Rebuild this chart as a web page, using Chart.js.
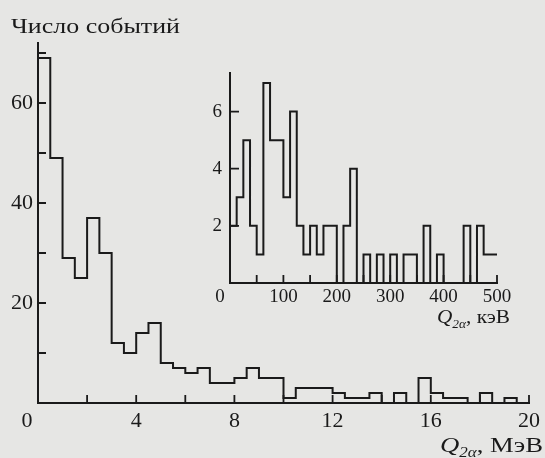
<!DOCTYPE html>
<html>
<head>
<meta charset="utf-8">
<script src="https://cdn.jsdelivr.net/npm/chart.js@4.4.1/dist/chart.umd.min.js"></script>
<style>
  html, body { margin: 0; padding: 0; background: #e6e6e4; }
  #wrap { position: relative; width: 545px; height: 458px; overflow: hidden; }
  #mainChart { position: absolute; left: 0; top: 0; }
  #insetChart { position: absolute; left: 180px; top: 50px; }
</style>
</head>
<body>
<div id="wrap">
  <canvas id="mainChart" width="545" height="458"></canvas>
  <canvas id="insetChart" width="365" height="290"></canvas>
</div>
<script>
// main histogram: 0.5 MeV bins, 0..20 MeV
const mainBinWidth = 0.5;
const mainCounts = [69, 49, 29, 25, 37, 30, 12, 10, 14, 16,
                    8, 7, 6, 7, 4, 4, 5, 7, 5, 5,
                    1, 3, 3, 3, 2, 1, 1, 2, 0, 2,
                    0, 5, 2, 1, 1, 0, 2, 0, 1, 0];
const mainXLabels = [4, 8, 12, 16, 20];
const mainYLabels = [20, 40, 60];
const mainXMarks = [2, 4, 6, 8, 10, 12, 14, 16, 18, 20];
const mainYMarks = [10, 20, 30, 40, 50, 60, 70];

// inset: 12.5 keV bins, 0..500 keV
const insetBinWidth = 12.5;
const insetCounts = [2, 3, 5, 2, 1, 7, 5, 5, 3, 6,
                     2, 1, 2, 1, 2, 2, 0, 2, 4, 0,
                     1, 0, 1, 0, 1, 0, 1, 1, 0, 2,
                     0, 1, 0, 0, 0, 2, 0, 2, 1, 1];
const insetXLabels = [100, 200, 300, 400, 500];
const insetYLabels = [2, 4, 6];
const insetXMarks = [50, 100, 150, 200, 250, 300, 350, 400, 450, 500];
const insetYMarks = [2, 4, 6];

const ink = '#1a1a1a';
const serif = "'Liberation Serif', 'Times New Roman', serif";

function stepPoints(counts, width) {
    const pts = counts.map((c, i) => ({ x: i * width, y: c }));
    pts.push({ x: counts.length * width, y: counts[counts.length - 1] });
    return pts;
}

// small ticks pointing into the plot
function drawMarks(chart, xMarks, yMarks, xLen, yLen) {
    const { ctx, scales: { x, y } } = chart;
    ctx.save();
    ctx.strokeStyle = ink;
    ctx.lineWidth = 1.8;
    ctx.beginPath();
    xMarks.forEach(v => {
        const px = x.getPixelForValue(v);
        ctx.moveTo(px, y.bottom);
        ctx.lineTo(px, y.bottom - xLen);
    });
    yMarks.forEach(v => {
        const py = y.getPixelForValue(v);
        ctx.moveTo(x.left, py);
        ctx.lineTo(x.left + yLen, py);
    });
    ctx.stroke();
    ctx.restore();
}

function drawOrigin(chart, dx, cy, size) {
    const { ctx, scales: { x } } = chart;
    ctx.save();
    ctx.fillStyle = ink;
    ctx.font = size + 'px ' + serif;
    ctx.textAlign = 'center';
    ctx.textBaseline = 'middle';
    ctx.fillText('0', x.getPixelForValue(0) + dx, cy);
    ctx.restore();
}

// "Q2α, unit" with italic Q and subscript, fitted between left and right
function drawAxisTitle(ctx, left, right, baseline, size, unit) {
    const big = 'italic ' + size + 'px ' + serif;
    const small = 'italic ' + Math.round(size * 0.62) + 'px ' + serif;
    const plain = size + 'px ' + serif;
    const tail = ', ' + unit;
    ctx.save();
    ctx.fillStyle = ink;
    ctx.textAlign = 'left';
    ctx.textBaseline = 'alphabetic';
    ctx.font = big; const wq = ctx.measureText('Q').width;
    ctx.font = small; const ws = ctx.measureText('2α').width;
    ctx.font = plain; const wt = ctx.measureText(tail).width;
    ctx.translate(left, baseline);
    ctx.scale((right - left) / (wq + ws + wt), 1);
    ctx.font = big; ctx.fillText('Q', 0, 0);
    ctx.font = small; ctx.fillText('2α', wq, 5);
    ctx.font = plain; ctx.fillText(tail, wq + ws, 0);
    ctx.restore();
}

function stretchedText(ctx, text, left, baseline, size, targetWidth) {
    ctx.save();
    ctx.fillStyle = ink;
    ctx.font = size + 'px ' + serif;
    ctx.textAlign = 'left';
    ctx.textBaseline = 'alphabetic';
    const w = ctx.measureText(text).width;
    ctx.translate(left, baseline);
    ctx.scale(targetWidth / w, 1);
    ctx.fillText(text, 0, 0);
    ctx.restore();
}

const mainDecor = {
    id: 'mainDecor',
    afterDraw(chart) {
        drawMarks(chart, mainXMarks, mainYMarks, 8, 8);
        drawOrigin(chart, -11, 421, 22);
        stretchedText(chart.ctx, 'Число событий', 11, 33, 22, 169);
        drawAxisTitle(chart.ctx, 440, 543, 452, 22, 'МэВ');
    }
};

const insetDecor = {
    id: 'insetDecor',
    afterDraw(chart) {
        drawMarks(chart, insetXMarks, insetYMarks, 8, 9);
        drawOrigin(chart, -10, 247.5, 19);
        drawAxisTitle(chart.ctx, 257, 330, 273, 19, 'кэВ');
    }
};

function axisOpts(extra) {
    return Object.assign({
        grid: { display: true, drawOnChartArea: false, drawTicks: false },
        border: { display: true, color: ink, width: 2 }
    }, extra);
}

new Chart(document.getElementById('mainChart'), {
    type: 'line',
    data: {
        datasets: [{
            data: stepPoints(mainCounts, mainBinWidth),
            stepped: 'before',
            borderColor: ink,
            borderWidth: 2,
            pointRadius: 0,
            fill: false
        }]
    },
    options: {
        responsive: false,
        animation: false,
        devicePixelRatio: 1,
        layout: { padding: { left: 0, top: 43, right: 11, bottom: 0 } },
        plugins: { legend: { display: false }, tooltip: { enabled: false } },
        scales: {
            x: axisOpts({
                type: 'linear', min: 0, max: 20,
                afterFit: s => { s.height = 55; },
                afterBuildTicks: s => { s.ticks = mainXLabels.map(v => ({ value: v })); },
                ticks: { color: ink, font: { family: serif, size: 22 }, padding: 5, maxRotation: 0, autoSkip: false }
            }),
            y: axisOpts({
                type: 'linear', min: 0, max: 72,
                afterFit: s => { s.width = 38; },
                afterBuildTicks: s => { s.ticks = mainYLabels.map(v => ({ value: v })); },
                ticks: { color: ink, font: { family: serif, size: 22 }, padding: 5, autoSkip: false }
            })
        }
    },
    plugins: [mainDecor]
});

new Chart(document.getElementById('insetChart'), {
    type: 'line',
    data: {
        datasets: [{
            data: stepPoints(insetCounts, insetBinWidth),
            stepped: 'before',
            borderColor: ink,
            borderWidth: 2,
            pointRadius: 0,
            fill: false
        }]
    },
    options: {
        responsive: false,
        animation: false,
        devicePixelRatio: 1,
        layout: { padding: { left: 0, top: 23, right: 48, bottom: 0 } },
        plugins: { legend: { display: false }, tooltip: { enabled: false } },
        scales: {
            x: axisOpts({
                type: 'linear', min: 0, max: 500,
                afterFit: s => { s.height = 57; },
                afterBuildTicks: s => { s.ticks = insetXLabels.map(v => ({ value: v })); },
                ticks: { color: ink, font: { family: serif, size: 19 }, padding: 3, maxRotation: 0, autoSkip: false }
            }),
            y: axisOpts({
                type: 'linear', min: 0, max: 7.35,
                afterFit: s => { s.width = 50; },
                afterBuildTicks: s => { s.ticks = insetYLabels.map(v => ({ value: v })); },
                ticks: { color: ink, font: { family: serif, size: 19 }, padding: 8, autoSkip: false }
            })
        }
    },
    plugins: [insetDecor]
});
</script>
</body>
</html>
